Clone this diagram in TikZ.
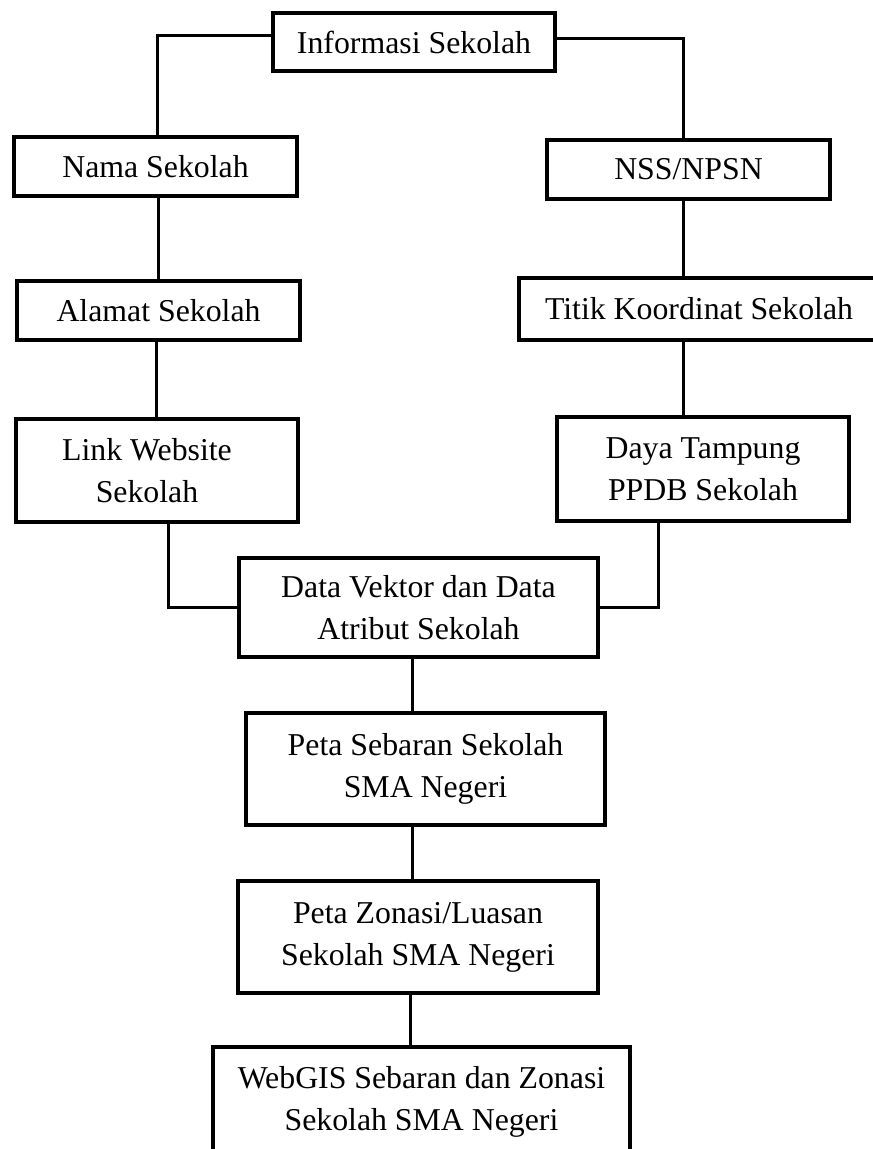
\documentclass[tikz,border=0pt]{standalone}
\usepackage{fontspec}
\setmainfont{Liberation Serif}
\usepackage{tikz}

\begin{document}
\begin{tikzpicture}[x=1pt, y=-1pt,
  box/.style={draw=black, line width=3.5pt, align=center, inner sep=0pt,
    font=\fontsize{31.8}{42}\selectfont},
  ln/.style={line width=3pt}
]
\useasboundingbox (0,0) rectangle (873,1149);
\coordinate (rspine) at (683,0);
\coordinate (mspine) at (412,0);

\node[box, minimum width=282pt, minimum height=58pt] (info) at (414,42) {Informasi Sekolah};
\node[box, minimum width=283pt, minimum height=59pt] (nama) at (155.5,166.5) {Nama Sekolah};
\node[box, minimum width=283pt, minimum height=59pt] (nss) at (688.5,169.5) {NSS/NPSN};
\node[box, minimum width=283pt, minimum height=59pt] (alamat) at (158.5,310.5) {Alamat Sekolah};
\node[box, minimum width=360pt, minimum height=62pt] (titik) at (699,309) {Titik Koordinat Sekolah};
\node[box, minimum width=282pt, minimum height=103pt] (link) at (157,470.5) {Link Website\hspace*{20pt}\\ Sekolah\hspace*{20pt}};
\node[box, minimum width=292pt, minimum height=104pt] (daya) at (703,469) {Daya Tampung\\ PPDB Sekolah};
\node[box, minimum width=359pt, minimum height=99pt] (data) at (418.5,607.5) {Data Vektor dan Data\\ Atribut Sekolah};
\node[box, minimum width=359pt, minimum height=112pt] (peta) at (425.5,769) {Peta Sebaran Sekolah\\ SMA Negeri};
\node[box, minimum width=360pt, minimum height=112pt] (zonasi) at (418,937) {Peta Zonasi/Luasan\\ Sekolah SMA Negeri};
\node[box, minimum width=417pt, minimum height=110pt] (webgis) at (421.5,1102) {WebGIS Sebaran dan Zonasi\\ Sekolah SMA Negeri};

% kiri
\draw[ln] ([yshift=7pt]info.west) -| ([xshift=1.5pt]nama.north);
\draw[ln] ([xshift=2.5pt]nama.south) -- ([xshift=2.5pt]nama.south |- alamat.north);
\draw[ln] ([xshift=-2pt]alamat.south) -- ([xshift=-2pt]alamat.south |- link.north);
\draw[ln] ([xshift=11pt]link.south) |- (data.west);
% kanan
\draw[ln] ([yshift=4pt]info.east) -| (nss.north -| rspine);
\draw[ln] (nss.south -| rspine) -- (titik.north -| rspine);
\draw[ln] (titik.south -| rspine) -- (daya.north -| rspine);
\draw[ln] ([xshift=-45pt]daya.south) |- (data.east);
% tengah
\draw[ln] (data.south -| mspine) -- (peta.north -| mspine);
\draw[ln] (peta.south -| mspine) -- (zonasi.north -| mspine);
\draw[ln] ([xshift=-2pt]zonasi.south -| mspine) -- ([xshift=-2pt]webgis.north -| mspine);
\end{tikzpicture}
\end{document}
